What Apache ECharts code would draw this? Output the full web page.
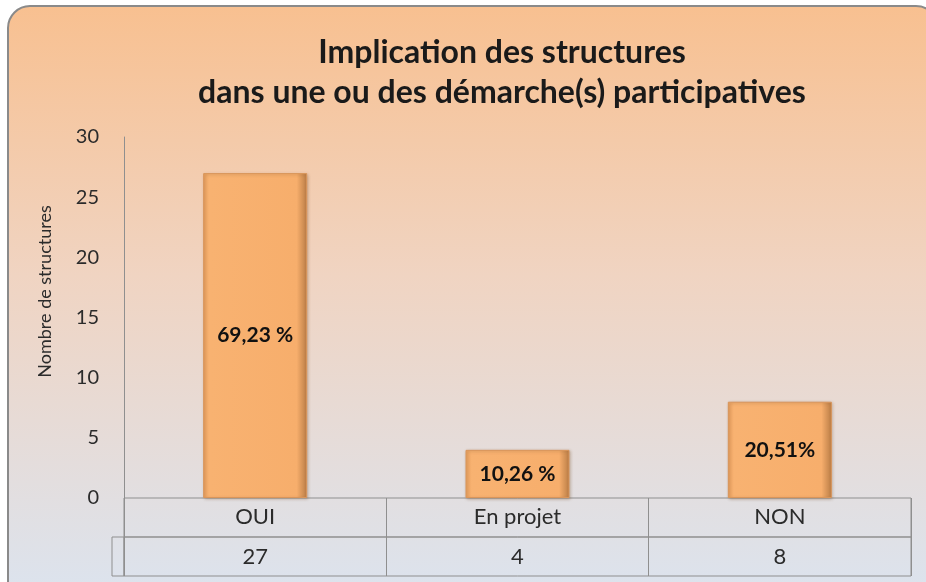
<!DOCTYPE html>
<html>
	<head>
		<meta charset="utf-8" />
		<title>Implication des structures</title>
		<script src="https://cdn.jsdelivr.net/npm/echarts@6/dist/echarts.min.js"></script>
		<style>
			html, body { margin: 0; padding: 0; background: #ffffff; }
		</style>
	</head>
	<body>
		<div id="chart" style="width:926px;height:582px;"></div>
	</body>
	<script type="text/javascript">

	// données
	var categories = ['OUI', 'En projet', 'NON'];
	var values = [27, 4, 8];
	var percentLabels = ['69,23 %', '10,26 %', '20,51%'];
	var yTicks = [0, 5, 10, 15, 20, 25, 30];

	var font = 'Lato';
	var gridLeft = 124, gridRight = 15;

	var myChart = echarts.init(document.getElementById('chart'));

	var option = {
		backgroundColor: 'transparent',
		animation: false,
		graphic: [{
			type: 'rect',
			z: -10,
			shape: { x: 8, y: 6, width: 930, height: 600, r: 22 },
			style: {
				fill: new echarts.graphic.LinearGradient(0, 0, 0, 1, [
					{ offset: 0, color: '#f8c090' },
					{ offset: 0.45, color: '#f0d4c2' },
					{ offset: 1, color: '#dbe4f0' }
				]),
				stroke: '#8a8a8a',
				lineWidth: 2
			}
		}],
		title: {
			text: 'Implication des structures\ndans une ou des démarche(s) participatives',
			left: 497,
			top: 28,
			textAlign: 'center',
			textStyle: {
				fontFamily: font,
				fontSize: 32,
				fontWeight: 'bold',
				color: '#1a1a1a',
				lineHeight: 40
			}
		},
		grid: [
			// zone des barres
			{ left: gridLeft, right: gridRight, top: 137, height: 361 },
			// ligne des catégories
			{ left: gridLeft, right: gridRight, top: 498, height: 39, show: true, borderColor: '#8f8f8f', borderWidth: 1 },
			// ligne des valeurs
			{ left: gridLeft, right: gridRight, top: 537, height: 39, show: true, borderColor: '#8f8f8f', borderWidth: 1 },
			// case vide à gauche
			{ left: 112, width: 12, top: 537, height: 39, show: true, borderColor: '#8f8f8f', borderWidth: 1 }
		],
		xAxis: [
			{
				gridIndex: 0,
				type: 'category',
				data: categories,
				axisLine: { show: false },
				axisTick: { show: false },
				axisLabel: { show: false }
			},
			{
				gridIndex: 1,
				type: 'category',
				data: categories,
				axisLine: { show: false },
				axisTick: { show: false },
				splitLine: { show: true, lineStyle: { color: '#8f8f8f', width: 1 } },
				axisLabel: {
					margin: -20,
					verticalAlign: 'middle',
					fontFamily: font,
					fontSize: 22,
					color: '#2b2b2b'
				}
			},
			{
				gridIndex: 2,
				type: 'category',
				data: values.map(String),
				axisLine: { show: false },
				axisTick: { show: false },
				splitLine: { show: true, lineStyle: { color: '#8f8f8f', width: 1 } },
				axisLabel: {
					margin: -19,
					verticalAlign: 'middle',
					fontFamily: font,
					fontSize: 22,
					color: '#2b2b2b'
				}
			},
			{
				gridIndex: 3,
				type: 'category',
				data: [''],
				show: false
			}
		],
		yAxis: [
			{
				gridIndex: 0,
				type: 'value',
				min: yTicks[0],
				max: yTicks[yTicks.length - 1],
				interval: 5,
				name: 'Nombre de structures',
				nameLocation: 'middle',
				nameGap: 70,
				nameRotate: 90,
				nameTextStyle: {
					fontFamily: font,
					fontSize: 18,
					color: '#2b2b2b',
					padding: [0, 0, 0, 52]
				},
				axisLine: { show: true, lineStyle: { color: '#8f8f8f', width: 1 } },
				axisTick: { show: false },
				splitLine: { show: false },
				axisLabel: {
					margin: 25,
					fontFamily: font,
					fontSize: 20,
					color: '#2b2b2b'
				}
			},
			{ gridIndex: 1, type: 'value', show: false },
			{ gridIndex: 2, type: 'value', show: false },
			{ gridIndex: 3, type: 'value', show: false }
		],
		series: [{
			type: 'bar',
			xAxisIndex: 0,
			yAxisIndex: 0,
			data: values,
			barWidth: 104,
			itemStyle: {
				color: new echarts.graphic.LinearGradient(0, 0, 1, 0, [
					{ offset: 0, color: '#e9a160' },
					{ offset: 0.06, color: '#f8b271' },
					{ offset: 0.9, color: '#f7ae6c' },
					{ offset: 1, color: '#b97c45' }
				]),
				borderColor: '#d9955a',
				borderWidth: 1,
				shadowColor: 'rgba(120, 80, 40, 0.35)',
				shadowBlur: 3,
				shadowOffsetX: 1,
				shadowOffsetY: 1
			},
			label: {
				show: true,
				position: 'inside',
				formatter: function (p) { return percentLabels[p.dataIndex]; },
				fontFamily: font,
				fontSize: 21,
				fontWeight: 'bold',
				color: '#111111'
			}
		}]
	};

	myChart.setOption(option);

	</script>
</html>
